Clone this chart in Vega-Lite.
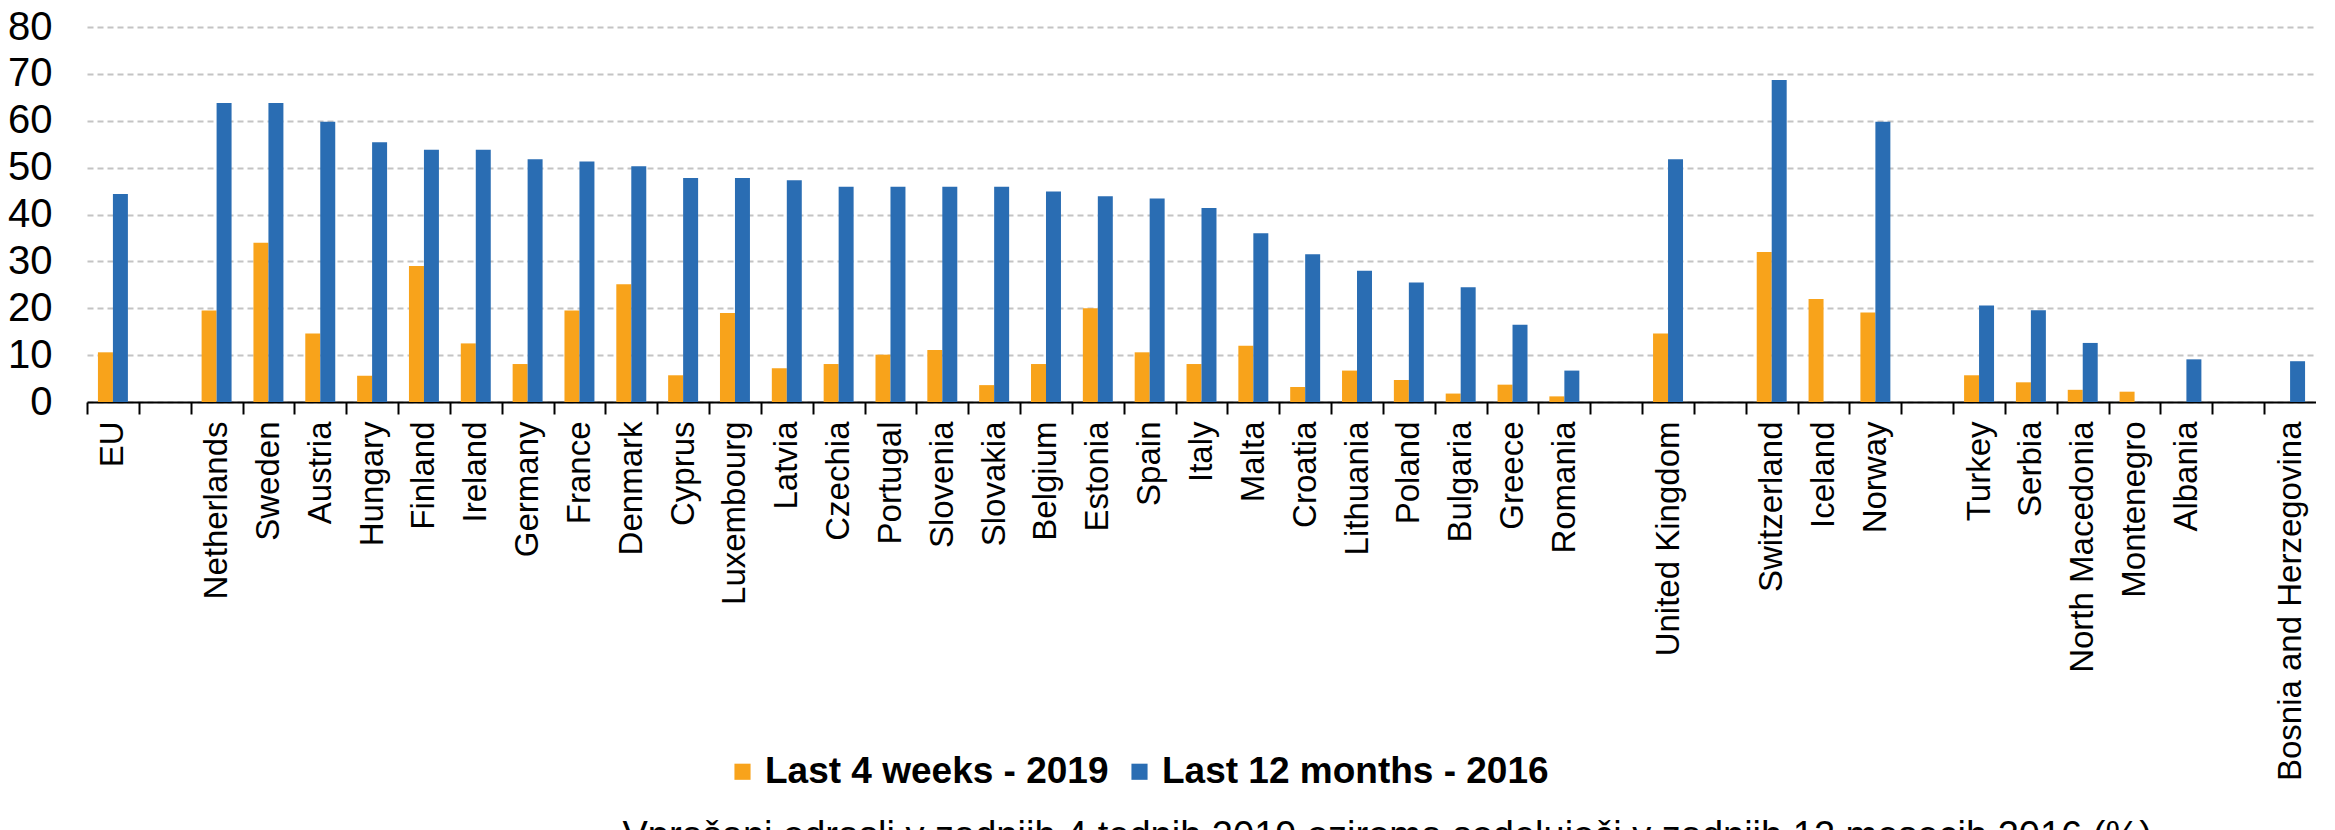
{
  "$schema": "https://vega.github.io/schema/vega-lite/v6.json",
  "width": 2229,
  "height": 375,
  "padding": {"left": 7, "top": 7, "right": 0, "bottom": 0},
  "background": "white",
  "config": {"font": "Liberation Sans", "view": {"stroke": null}},
  "title": {
    "text": "Vprašani odrasli v zadnjih 4 tednih 2019 oziroma sodelujoči v zadnjih 12 mesecih 2016 (%)",
    "orient": "bottom",
    "anchor": "start",
    "dx": 615,
    "offset": 28,
    "fontSize": 38,
    "fontWeight": "normal",
    "color": "black",
    "font": "Liberation Sans"
  },
  "data": {
    "values": [
      {"country": "EU", "series": "Last 4 weeks - 2019", "value": 10.6},
      {"country": "EU", "series": "Last 12 months - 2016", "value": 44.4},
      {"country": "Netherlands", "series": "Last 4 weeks - 2019", "value": 19.5},
      {"country": "Netherlands", "series": "Last 12 months - 2016", "value": 63.8},
      {"country": "Sweden", "series": "Last 4 weeks - 2019", "value": 34.0},
      {"country": "Sweden", "series": "Last 12 months - 2016", "value": 63.8},
      {"country": "Austria", "series": "Last 4 weeks - 2019", "value": 14.6},
      {"country": "Austria", "series": "Last 12 months - 2016", "value": 59.8},
      {"country": "Hungary", "series": "Last 4 weeks - 2019", "value": 5.6},
      {"country": "Hungary", "series": "Last 12 months - 2016", "value": 55.4},
      {"country": "Finland", "series": "Last 4 weeks - 2019", "value": 29.0},
      {"country": "Finland", "series": "Last 12 months - 2016", "value": 53.8},
      {"country": "Ireland", "series": "Last 4 weeks - 2019", "value": 12.5},
      {"country": "Ireland", "series": "Last 12 months - 2016", "value": 53.8},
      {"country": "Germany", "series": "Last 4 weeks - 2019", "value": 8.1},
      {"country": "Germany", "series": "Last 12 months - 2016", "value": 51.8},
      {"country": "France", "series": "Last 4 weeks - 2019", "value": 19.5},
      {"country": "France", "series": "Last 12 months - 2016", "value": 51.3},
      {"country": "Denmark", "series": "Last 4 weeks - 2019", "value": 25.1},
      {"country": "Denmark", "series": "Last 12 months - 2016", "value": 50.3},
      {"country": "Cyprus", "series": "Last 4 weeks - 2019", "value": 5.7},
      {"country": "Cyprus", "series": "Last 12 months - 2016", "value": 47.8},
      {"country": "Luxembourg", "series": "Last 4 weeks - 2019", "value": 19.0},
      {"country": "Luxembourg", "series": "Last 12 months - 2016", "value": 47.8},
      {"country": "Latvia", "series": "Last 4 weeks - 2019", "value": 7.2},
      {"country": "Latvia", "series": "Last 12 months - 2016", "value": 47.3},
      {"country": "Czechia", "series": "Last 4 weeks - 2019", "value": 8.1},
      {"country": "Czechia", "series": "Last 12 months - 2016", "value": 45.9},
      {"country": "Portugal", "series": "Last 4 weeks - 2019", "value": 10.1},
      {"country": "Portugal", "series": "Last 12 months - 2016", "value": 45.9},
      {"country": "Slovenia", "series": "Last 4 weeks - 2019", "value": 11.1},
      {"country": "Slovenia", "series": "Last 12 months - 2016", "value": 45.9},
      {"country": "Slovakia", "series": "Last 4 weeks - 2019", "value": 3.6},
      {"country": "Slovakia", "series": "Last 12 months - 2016", "value": 45.9},
      {"country": "Belgium", "series": "Last 4 weeks - 2019", "value": 8.1},
      {"country": "Belgium", "series": "Last 12 months - 2016", "value": 44.9},
      {"country": "Estonia", "series": "Last 4 weeks - 2019", "value": 20.0},
      {"country": "Estonia", "series": "Last 12 months - 2016", "value": 43.9},
      {"country": "Spain", "series": "Last 4 weeks - 2019", "value": 10.6},
      {"country": "Spain", "series": "Last 12 months - 2016", "value": 43.4},
      {"country": "Italy", "series": "Last 4 weeks - 2019", "value": 8.1},
      {"country": "Italy", "series": "Last 12 months - 2016", "value": 41.4},
      {"country": "Malta", "series": "Last 4 weeks - 2019", "value": 12.0},
      {"country": "Malta", "series": "Last 12 months - 2016", "value": 36.0},
      {"country": "Croatia", "series": "Last 4 weeks - 2019", "value": 3.2},
      {"country": "Croatia", "series": "Last 12 months - 2016", "value": 31.5},
      {"country": "Lithuania", "series": "Last 4 weeks - 2019", "value": 6.7},
      {"country": "Lithuania", "series": "Last 12 months - 2016", "value": 28.0},
      {"country": "Poland", "series": "Last 4 weeks - 2019", "value": 4.7},
      {"country": "Poland", "series": "Last 12 months - 2016", "value": 25.5},
      {"country": "Bulgaria", "series": "Last 4 weeks - 2019", "value": 1.8},
      {"country": "Bulgaria", "series": "Last 12 months - 2016", "value": 24.5},
      {"country": "Greece", "series": "Last 4 weeks - 2019", "value": 3.7},
      {"country": "Greece", "series": "Last 12 months - 2016", "value": 16.5},
      {"country": "Romania", "series": "Last 4 weeks - 2019", "value": 1.2},
      {"country": "Romania", "series": "Last 12 months - 2016", "value": 6.7},
      {"country": "United Kingdom", "series": "Last 4 weeks - 2019", "value": 14.6},
      {"country": "United Kingdom", "series": "Last 12 months - 2016", "value": 51.8},
      {"country": "Switzerland", "series": "Last 4 weeks - 2019", "value": 32.0},
      {"country": "Switzerland", "series": "Last 12 months - 2016", "value": 68.7},
      {"country": "Iceland", "series": "Last 4 weeks - 2019", "value": 22.0},
      {"country": "Norway", "series": "Last 4 weeks - 2019", "value": 19.1},
      {"country": "Norway", "series": "Last 12 months - 2016", "value": 59.8},
      {"country": "Turkey", "series": "Last 4 weeks - 2019", "value": 5.7},
      {"country": "Turkey", "series": "Last 12 months - 2016", "value": 20.6},
      {"country": "Serbia", "series": "Last 4 weeks - 2019", "value": 4.2},
      {"country": "Serbia", "series": "Last 12 months - 2016", "value": 19.6},
      {"country": "North Macedonia", "series": "Last 4 weeks - 2019", "value": 2.6},
      {"country": "North Macedonia", "series": "Last 12 months - 2016", "value": 12.6},
      {"country": "Montenegro", "series": "Last 4 weeks - 2019", "value": 2.2},
      {"country": "Albania", "series": "Last 12 months - 2016", "value": 9.1},
      {"country": "Bosnia and Herzegovina", "series": "Last 12 months - 2016", "value": 8.7}
    ]
  },
  "mark": {"type": "bar"},
  "encoding": {
    "x": {
      "field": "country",
      "type": "nominal",
      "sort": null,
      "scale": {
        "domain": ["EU", "gap1", "Netherlands", "Sweden", "Austria", "Hungary", "Finland", "Ireland", "Germany", "France", "Denmark", "Cyprus", "Luxembourg", "Latvia", "Czechia", "Portugal", "Slovenia", "Slovakia", "Belgium", "Estonia", "Spain", "Italy", "Malta", "Croatia", "Lithuania", "Poland", "Bulgaria", "Greece", "Romania", "gap2", "United Kingdom", "gap3", "Switzerland", "Iceland", "Norway", "gap4", "Turkey", "Serbia", "North Macedonia", "Montenegro", "Albania", "gap5", "Bosnia and Herzegovina"],
        "paddingInner": 0,
        "paddingOuter": 0
      },
      "axis": {
        "title": null,
        "labelExpr": "indexof(datum.value, 'gap') == 0 ? '' : datum.value",
        "labelAngle": -90,
        "labelAlign": "right",
        "labelBaseline": "middle",
        "labelFontSize": 33,
        "labelColor": "black",
        "labelPadding": 7,
        "labelLimit": 1000,
        "labelOverlap": false,
        "domainColor": "black",
        "domainWidth": 2,
        "tickColor": "black",
        "tickWidth": 2,
        "tickSize": 12,
        "tickOffset": -25.92,
        "labelOffset": 25.92,
        "grid": false
      }
    },
    "xOffset": {
      "field": "series",
      "type": "nominal",
      "sort": null,
      "scale": {"domain": ["Last 4 weeks - 2019", "Last 12 months - 2016"], "paddingInner": 0, "paddingOuter": 0.73}
    },
    "y": {
      "field": "value",
      "type": "quantitative",
      "scale": {"domain": [0, 80]},
      "axis": {
        "title": null,
        "values": [0, 10, 20, 30, 40, 50, 60, 70, 80],
        "domain": false,
        "ticks": false,
        "grid": true,
        "gridDash": [6, 4],
        "gridColor": "#c4c4c4",
        "gridWidth": 2,
        "labelFontSize": 40,
        "labelColor": "black",
        "labelPadding": 35
      }
    },
    "color": {
      "field": "series",
      "type": "nominal",
      "sort": null,
      "scale": {"domain": ["Last 4 weeks - 2019", "Last 12 months - 2016"], "range": ["#F8A31B", "#2A6DB3"]},
      "legend": {
        "title": null,
        "orient": "none",
        "legendX": 637,
        "legendY": 726,
        "direction": "horizontal",
        "symbolType": "square",
        "symbolSize": 260,
        "symbolStrokeWidth": 0,
        "labelFontSize": 37,
        "labelFontWeight": "bold",
        "labelColor": "black",
        "labelOffset": 4,
        "columnPadding": 12,
        "labelLimit": 1000
      }
    }
  }
}
